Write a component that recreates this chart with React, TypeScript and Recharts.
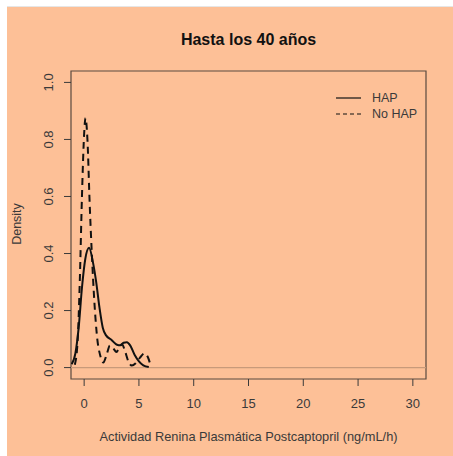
import React from "react";
import { LineChart, Line, XAxis, YAxis, ReferenceLine, ReferenceArea } from "recharts";

// density estimates (x in ng/mL/h)
const hapX = [-1.15, -0.8, -0.5, -0.2, 0.1, 0.45, 0.8, 1.1, 1.4, 1.7, 2.0, 2.5, 3.0, 3.3, 3.6, 3.9, 4.2, 4.6, 5.0, 5.4, 5.9];
const hapY = [0.012, 0.05, 0.14, 0.28, 0.38, 0.42, 0.37, 0.3, 0.21, 0.14, 0.113, 0.097, 0.08, 0.078, 0.087, 0.089, 0.078, 0.045, 0.022, 0.008, 0.002];

const noHapX = [-0.85, -0.6, -0.4, -0.2, 0.0, 0.12, 0.3, 0.5, 0.7, 0.95, 1.2, 1.45, 1.75, 2.05, 2.35, 2.65, 2.95, 3.2, 3.45, 3.75, 4.05, 4.35, 4.7, 5.1, 5.5, 5.8, 6.05];
const noHapY = [0.01, 0.09, 0.3, 0.6, 0.82, 0.875, 0.8, 0.58, 0.4, 0.22, 0.1, 0.045, 0.018, 0.045, 0.077, 0.068, 0.055, 0.07, 0.082, 0.055, 0.02, 0.007, 0.015, 0.035, 0.05, 0.038, 0.01];

const xTicks = [0, 5, 10, 15, 20, 25, 30];
const yTicks = [0, 0.2, 0.4, 0.6, 0.8, 1.0];

const BG = "#fdc097";
const INK = "#3a3a3a";
const FONT = "'Liberation Sans', Arial, sans-serif";

const hapData = hapX.map((x, i) => ({ x, y: hapY[i] }));
const noHapData = noHapX.map((x, i) => ({ x, y: noHapY[i] }));

const YTick = (props: any) => {
  const { x, y, payload } = props;
  const cx = x - 4;
  return (
    <text x={cx} y={y} transform={`rotate(-90, ${cx}, ${y})`} textAnchor="middle" fontSize={13} fill={INK} fontFamily={FONT}>
      {payload.value.toFixed(1)}
    </text>
  );
};

const LegendBox = () => (
  <svg width={100} height={36} style={{ display: "block" }}>
    <line x1={1} x2={26} y1={8} y2={8} stroke="#111" strokeWidth={1.2} />
    <text x={37} y={8} dominantBaseline="central" fontSize={12.5} fill={INK} fontFamily={FONT}>HAP</text>
    <line x1={1} x2={26} y1={24} y2={24} stroke="#111" strokeWidth={1.2} strokeDasharray="4 3" />
    <text x={37} y={24} dominantBaseline="central" fontSize={12.5} fill={INK} fontFamily={FONT}>No HAP</text>
  </svg>
);

export default function App() {
  return (
    <div style={{ position: "absolute", left: 0, top: 0, width: 453, height: 456, background: "#fff" }}>
      <div style={{ position: "absolute", left: 7, top: 6, width: 446, height: 450, background: BG, borderTop: "1px solid #e6e6e6" }} />
      <div style={{ position: "absolute", left: 0, top: 31, width: 497, textAlign: "center", fontFamily: FONT, fontWeight: "bold", fontSize: 16, color: "#111" }}>
        Hasta los 40 años
      </div>
      <div style={{ position: "absolute", left: 0, top: 429, width: 497, textAlign: "center", fontFamily: FONT, fontSize: 12.8, color: INK }}>
        Actividad Renina Plasmática Postcaptopril (ng/mL/h)
      </div>
      <div style={{ position: "absolute", left: 17, top: 224, transform: "translate(-50%, -50%) rotate(-90deg)", fontFamily: FONT, fontSize: 12.5, color: INK, whiteSpace: "nowrap" }}>
        Density
      </div>
      <div style={{ position: "absolute", left: 0, top: 0 }}>
        <LineChart width={453} height={456} margin={{ top: 71, right: 27, bottom: 47, left: 41 }}>
          <XAxis
            type="number"
            dataKey="x"
            domain={[-1.2, 31.2]}
            ticks={xTicks}
            allowDataOverflow
            axisLine={false}
            tickSize={7}
            tickMargin={13}
            tickLine={{ stroke: INK }}
            tick={{ fill: INK, fontSize: 13, fontFamily: FONT }}
            height={30}
          />
          <YAxis
            type="number"
            dataKey="y"
            domain={[-0.04, 1.04]}
            ticks={yTicks}
            allowDataOverflow
            axisLine={false}
            tickSize={7}
            tickMargin={7}
            tickLine={{ stroke: INK }}
            tick={<YTick />}
            width={30}
          />
          <ReferenceArea x1={-1.2} x2={31.2} y1={-0.04} y2={1.04} fill="none" stroke="#5a4a40" strokeWidth={1.2} ifOverflow="visible" />
          <ReferenceLine y={0} stroke="#c89a7a" strokeWidth={1.2} />
          <Line data={hapData} dataKey="y" type="monotone" stroke="#111" strokeWidth={2} dot={false} isAnimationActive={false} />
          <Line data={noHapData} dataKey="y" type="monotone" stroke="#111" strokeWidth={2} strokeDasharray="7 5" dot={false} isAnimationActive={false} />
        </LineChart>
      </div>
      <div style={{ position: "absolute", left: 335, top: 90 }}>
        <LegendBox />
      </div>
    </div>
  );
}
